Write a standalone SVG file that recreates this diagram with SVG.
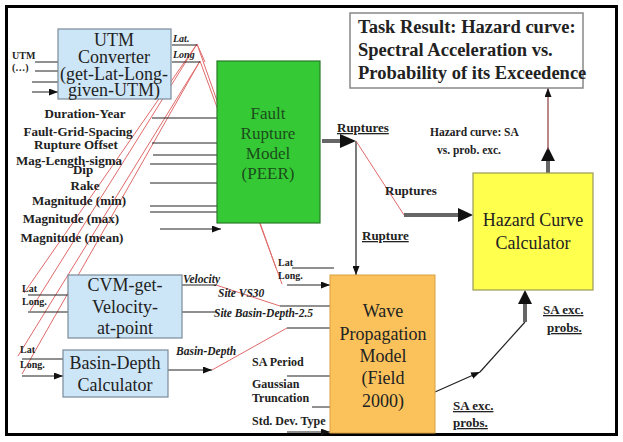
<svg xmlns="http://www.w3.org/2000/svg" width="623" height="442" viewBox="0 0 623 442">
<defs>
<marker id="ah" markerUnits="userSpaceOnUse" markerWidth="9" markerHeight="7" refX="9" refY="3.5" orient="auto"><path d="M0,0 L9,3.5 L0,7 Z" fill="#111"/></marker>
<style>
.box{stroke:#7a8a99;stroke-width:1.2}
.bt{font-family:"Liberation Serif","Times New Roman",serif;font-size:18px;fill:#222;text-anchor:middle}
.ft{font-family:"Liberation Serif","Times New Roman",serif;font-size:17px;fill:#1b4d1b;text-anchor:middle}
.lb{font-family:"Liberation Serif","Times New Roman",serif;font-weight:bold;font-size:13px;fill:#222}
.tr{font-family:"Liberation Serif","Times New Roman",serif;font-weight:bold;font-size:18.5px;fill:#222}
.sm{font-family:"Liberation Serif","Times New Roman",serif;font-weight:bold;font-size:10px;fill:#222}
.s12{font-family:"Liberation Serif","Times New Roman",serif;font-weight:bold;font-size:12px;fill:#222}
.s11{font-family:"Liberation Serif","Times New Roman",serif;font-weight:bold;font-size:11.5px;fill:#222}
.it{font-family:"Liberation Serif","Times New Roman",serif;font-weight:bold;font-style:italic;font-size:11.5px;fill:#222}
.ln{stroke:#222;stroke-width:1.2;fill:none}
.rd{stroke:#e06a6a;stroke-width:1;fill:none}
.tk{stroke:#666;stroke-width:4;fill:none}
.hd{fill:#111}
</style>
</defs>
<rect x="0" y="0" width="623" height="442" fill="#fff"/>
<rect x="6.5" y="6.5" width="610" height="428" fill="#fff" stroke="#000" stroke-width="3"/>

<g id="connectors">
<path class="rd" d="M197,44 L24,293 M197,44 L30,311 M200,61 L18,356 M200,61 L22,374"/>
<path class="rd" d="M197,44 L205,62 M197,44 L276,268 M200,61 L282,284"/>
<path class="ln" marker-end="url(#ah)" d="M35,62 H58 M35,71 H58 M32,82 H58 M32,92 H58"/>
<path class="ln" d="M172,45 H197 M172,62 H200" stroke-width="0.8"/>
<path class="ln" marker-end="url(#ah)" d="M152,118 H217 M152,143 H217 M153,155 H217 M150,164 H217 M150,183 H217 M150,206 H217 M150,212 H217 M160,229 H221"/>
<path class="tk" d="M322,141 H342"/>
<path class="hd" d="M340,134 L356,141 L340,148 Z"/>
<path class="ln" marker-end="url(#ah)" d="M356,141 V275"/>
<path class="rd" d="M356,141 L404,215"/>
<path class="tk" d="M404,215 H459"/>
<path class="hd" d="M458,208 L473,215 L458,222 Z"/>
<path class="tk" d="M548,173 V160"/>
<path class="hd" d="M541,161 L548,147 L555,161 Z"/>
<path stroke="#8a3a3a" stroke-width="1.2" fill="none" marker-end="url(#ah)" d="M548,150 V88"/>
<path class="ln" marker-end="url(#ah)" d="M28,295 H68 M28,312 H68 M22,359 H63 M22,376 H63"/>
<path class="ln" marker-end="url(#ah)" d="M292,268 H334 M287,285 H330"/>
<path class="ln" marker-end="url(#ah)" d="M182,285 H216 M182,312 H216 M168,370 H212"/>
<path class="rd" d="M216,285 L280,306 M212,370 L287,328"/>
<path class="ln" marker-end="url(#ah)" d="M280,306 H330 M287,328 H330 M287,376 H330 M312,407 H330 M287,432 H330"/>
<path class="ln" marker-end="url(#ah)" d="M435,392 L480,372"/>
<path class="ln" d="M480,372 L525,322"/>
<path class="tk" d="M525,322 V303"/>
<path class="hd" d="M518,304 L525,290 L532,304 Z"/>
</g>

<g id="utm">
<rect class="box" x="58" y="29" width="113" height="70" fill="#cde6f7"/>
<text class="bt" x="114" y="46">UTM</text>
<text class="bt" x="114" y="63">Converter</text>
<text class="bt" x="114" y="80">(get-Lat-Long-</text>
<text class="bt" x="114" y="96">given-UTM)</text>
</g>
<g id="utm-labels">
<text class="sm" x="12" y="59">UTM</text>
<text class="sm" x="12" y="71">(…)</text>
<text class="sm" x="173" y="42" font-style="italic">Lat.</text>
<text class="sm" x="173" y="58" font-style="italic">Long</text>
</g>

<g id="params">
<text class="lb" x="85" y="118" text-anchor="middle">Duration-Year</text>
<text class="lb" x="78" y="136" text-anchor="middle">Fault-Grid-Spacing</text>
<text class="lb" x="76" y="148.5" text-anchor="middle">Rupture Offset</text>
<text class="lb" x="69" y="165" text-anchor="middle">Mag-Length-sigma</text>
<text class="lb" x="83" y="174" text-anchor="middle">Dip</text>
<text class="lb" x="85" y="190" text-anchor="middle">Rake</text>
<text class="lb" x="79" y="205" text-anchor="middle">Magnitude (min)</text>
<text class="lb" x="71" y="223" text-anchor="middle">Magnitude (max)</text>
<text class="lb" x="72" y="242" text-anchor="middle">Magnitude (mean)</text>
</g>

<g id="fault">
<rect x="217" y="61" width="103" height="162" fill="#35c935" stroke="#2a7a2a" stroke-width="1.2"/>
<text class="ft" x="268" y="119">Fault</text>
<text class="ft" x="268" y="139">Rupture</text>
<text class="ft" x="268" y="159">Model</text>
<text class="ft" x="268" y="179">(PEER)</text>
</g>

<g id="task">
<rect x="350" y="13" width="233" height="75" fill="#fff" stroke="#888" stroke-width="1.5"/>
<text class="tr" x="358" y="33">Task Result: Hazard curve:</text>
<text class="tr" x="358" y="56">Spectral Acceleration vs.</text>
<text class="tr" x="358" y="79">Probability of its Exceedence</text>
</g>

<g id="flow-labels">
<text class="lb" x="337" y="132" text-decoration="underline">Ruptures</text>
<text class="lb" x="385" y="195">Ruptures</text>
<text class="lb" x="362" y="240" text-decoration="underline">Rupture</text>
<text class="s11" x="430" y="136">Hazard curve: SA</text>
<text class="s11" x="437" y="154">vs. prob. exc.</text>
<text class="lb" x="543" y="314" text-decoration="underline">SA exc.</text>
<text class="lb" x="547" y="332" text-decoration="underline">probs.</text>
<text class="lb" x="453" y="410" text-decoration="underline">SA exc.</text>
<text class="lb" x="453" y="427" text-decoration="underline">probs.</text>
</g>

<g id="hazard">
<rect x="473" y="173" width="120" height="117" fill="#ffff4d" stroke="#9a9a5a" stroke-width="1.2"/>
<text class="bt" x="533" y="226">Hazard Curve</text>
<text class="bt" x="533" y="249">Calculator</text>
</g>

<g id="cvm">
<rect class="box" x="68" y="275" width="114" height="63" fill="#cde6f7"/>
<text class="bt" x="125" y="291">CVM-get-</text>
<text class="bt" x="125" y="313">Velocity-</text>
<text class="bt" x="125" y="334">at-point</text>
</g>
<g id="cvm-labels">
<text class="sm" x="22" y="292">Lat</text>
<text class="sm" x="22" y="305">Long.</text>
<text class="it" x="183" y="283">Velocity</text>
<text class="it" x="218" y="297">Site VS30</text>
<text class="it" x="214" y="317">Site Basin-Depth-2.5</text>
</g>

<g id="basin">
<rect class="box" x="63" y="350" width="105" height="47" fill="#cde6f7"/>
<text class="bt" x="115" y="369">Basin-Depth</text>
<text class="bt" x="115" y="391">Calculator</text>
</g>
<g id="basin-labels">
<text class="sm" x="20" y="353">Lat</text>
<text class="sm" x="20" y="368">Long.</text>
<text class="it" x="176" y="355">Basin-Depth</text>
</g>

<g id="wave-labels">
<text class="sm" x="278" y="266">Lat</text>
<text class="sm" x="278" y="279">Long.</text>
<text class="s12" x="252" y="366">SA Period</text>
<text class="s12" x="252" y="388">Gaussian</text>
<text class="s12" x="252" y="402">Truncation</text>
<text class="s12" x="252" y="425">Std. Dev. Type</text>
</g>

<g id="wave">
<rect x="330" y="275" width="105" height="158" fill="#fbc25c" stroke="#d9a040" stroke-width="1"/>
<text class="bt" x="383" y="317">Wave</text>
<text class="bt" x="383" y="340">Propagation</text>
<text class="bt" x="383" y="362">Model</text>
<text class="bt" x="383" y="384">(Field</text>
<text class="bt" x="383" y="407">2000)</text>
</g>
</svg>
